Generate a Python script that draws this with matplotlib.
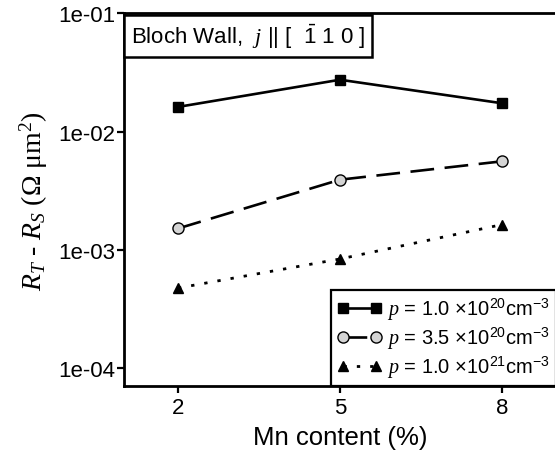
import matplotlib
matplotlib.use("Agg")
import matplotlib.pyplot as plt
from matplotlib.ticker import FixedLocator, FuncFormatter, NullLocator

plt.rcParams['font.family'] = ['Liberation Sans', 'DejaVu Sans']
plt.rcParams['mathtext.fontset'] = 'custom'
plt.rcParams['mathtext.rm'] = 'Liberation Sans'
plt.rcParams['mathtext.it'] = 'Liberation Serif:italic'
plt.rcParams['mathtext.sf'] = 'Liberation Serif'

mn_content = [2, 5, 8]
r_p1 = [0.0162, 0.0275, 0.0174]
r_p2 = [0.00152, 0.00393, 0.00562]
r_p3 = [0.000477, 0.00084, 0.00164]
labels = [r"$p$ = 1.0 ×10$^{20}$cm$^{-3}$",
          r"$p$ = 3.5 ×10$^{20}$cm$^{-3}$",
          r"$p$ = 1.0 ×10$^{21}$cm$^{-3}$"]
y_ticks = [1e-4, 1e-3, 1e-2, 1e-1]

fig = plt.figure(figsize=(5.55, 4.52), dpi=100)
ax = fig.add_axes([124/555, 1-387.3/452, (556-124)/555, (387.3-14.4)/452])

lw = 1.9
ax.plot(mn_content, r_p1, color='black', lw=lw, marker='s', ms=7,
        mfc='black', mec='black', label=labels[0])
ax.plot(mn_content, r_p2, color='black', lw=lw, marker='o', ms=8,
        mfc='#d4d4d4', mec='black', mew=1.0, linestyle=(0, (9, 4)), label=labels[1])
ax.plot(mn_content, r_p3, color='black', lw=2.0, marker='^', ms=7.5,
        mfc='black', mec='black', linestyle=(0, (1.2, 3.6)), label=labels[2])

ax.set_yscale('log')
ax.set_xlim(1, 9)
ax.set_ylim(10**-4.152, 1e-1)
ax.xaxis.set_major_locator(FixedLocator(mn_content))
ax.yaxis.set_major_locator(FixedLocator(y_ticks))
ax.yaxis.set_minor_locator(NullLocator())
ax.yaxis.set_major_formatter(FuncFormatter(lambda v, p: f"{v:.0e}"))

for s in ax.spines.values():
    s.set_linewidth(2.0)
ax.tick_params(axis='both', direction='out', length=5, width=1.6,
               labelsize=16, top=False, right=False)
ax.tick_params(axis='y', pad=1)
ax.tick_params(axis='x', pad=3)

ax.set_xlabel("Mn content (%)", fontsize=18.5, labelpad=5)
ax.set_ylabel(r"$R_T$ - $R_S$ (Ω μm$^\mathsf{2}$)", fontsize=20,
              family='Liberation Serif', labelpad=6)

ax.annotate(r"Bloch Wall,  $j$ || [  $\bar{1}$ 1 0 ]", xy=(0, 1), xycoords='axes fraction',
            xytext=(5, -6), textcoords='offset points',
            ha='left', va='top', fontsize=16,
            bbox=dict(boxstyle='square,pad=0.3', facecolor='white', edgecolor='black', lw=1.8))

leg = ax.legend(loc='lower right', borderaxespad=0, numpoints=2, fontsize=14.5,
                handlelength=2.25, handletextpad=0.25, labelspacing=0.15,
                fancybox=False, edgecolor='black', framealpha=1, borderpad=0.3)
leg.get_frame().set_linewidth(1.6)

fig.savefig("out.png", dpi=100)
